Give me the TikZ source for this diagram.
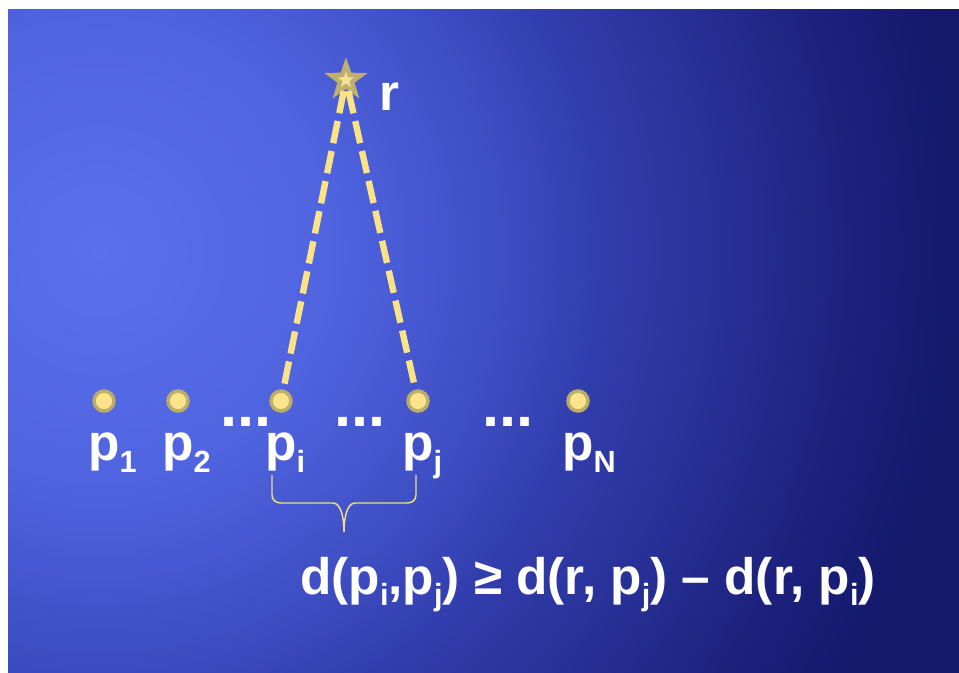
\documentclass[tikz,border=0pt]{standalone}
\usepackage{fontspec}
\setmainfont{Liberation Sans}
\usetikzlibrary{shapes.geometric,positioning}
\definecolor{bglight}{RGB}{90,112,236}
\definecolor{bgsoft}{RGB}{80,100,224}
\definecolor{bgmid}{RGB}{62,78,196}
\definecolor{bgdeep}{RGB}{50,62,174}
\definecolor{bgnight}{RGB}{28,34,125}
\definecolor{bgdark}{RGB}{20,25,108}
\definecolor{dotfill}{RGB}{250,228,140}
\definecolor{dotrim}{RGB}{188,174,102}
\definecolor{raycol}{RGB}{250,226,135}
\definecolor{starcol}{RGB}{190,176,106}
\definecolor{corecol}{RGB}{240,226,150}
\definecolor{bracecol}{RGB}{240,220,140}
\pgfdeclareradialshading{slidebg}{\pgfpoint{0bp}{0bp}}{color(0bp)=(bglight); color(5.75bp)=(bgsoft); color(10bp)=(bgmid); color(12.5bp)=(bgdeep); color(18.75bp)=(bgnight); color(21.5bp)=(bgdark); color(50bp)=(bgdark)}
\newcommand{\lowidx}[1]{\raisebox{-.22em}{\fontsize{23}{23}\selectfont #1}}
\newcommand{\ptlabel}[1]{p\rlap{\lowidx{#1}}}

\begin{document}
\begin{tikzpicture}[x=.75pt,y=-.75pt,lbl/.style={text=white,inner sep=0pt,font=\fontsize{38.5}{40}\selectfont\bfseries},gap/.style={lbl,anchor=base,font=\fontsize{46}{46}\selectfont\bfseries},dot/.style={circle,fill=dotfill,draw=dotrim,line width=2.6pt,minimum size=15pt,inner sep=0pt},ray/.style={draw=raycol,line width=4.8pt,dash pattern=on 17pt off 6pt},starmark/.style={star,star points=5,star point ratio=2.5,fill=starcol,minimum size=34pt,inner sep=0pt},starcore/.style={star,star points=5,star point ratio=2.5,fill=corecol,minimum size=13pt,inner sep=0pt},brace/.style={draw=bracecol,line width=1.1pt}]
\useasboundingbox[fill=white] (0,0) rectangle (959,672);
\begin{scope}
 \clip (8,9) rectangle (959,672);
 \shade[shading=slidebg] (-900,-750) rectangle (1100,1250);
\end{scope}

% reference point and the points on the line
\node[starmark] (rstar) at (346,80) {};
\node[starcore] (rcore) at (rstar) {};
\node[lbl,anchor=base west] (rlbl) at (379,110) {r};
\foreach \nm/\xx/\sb in {p1/104/1,p2/178/2,pi/281/i,pj/418/j,pN/578/N}{
 \node[dot] (\nm) at (\xx,401) {};
 \node[lbl,below=15pt of \nm] (\nm lbl) {\ptlabel{\sb}};
}
\node[gap] (gap1) at (246,426) {...};
\node[gap] (gap2) at (360,426) {...};
\node[gap] (gap3) at (508,426) {...};
\draw[ray] (rstar) -- (pi);
\draw[ray] (rstar) -- (pj);

% brace under p_i ... p_j
\coordinate (braceL) at (272,475);
\coordinate (braceR) at (416,475);
\coordinate (bracetip) at (344,532);
\draw[brace] (braceL) -- ++(0,20) .. controls +(0,5) and +(-5,0) .. ++(9,8) -- ++(52,0) .. controls +(8,0) and +(0,-14) .. (bracetip)
 .. controls +(0,-14) and +(-8,0) .. ++(11,-29) -- ++(52,0) .. controls +(5,0) and +(0,5) .. ++(9,-8) -- (braceR);
\node[lbl,anchor=base] (ineq) at (588,594) {d(p\lowidx{i},p\lowidx{j}) ≥ d(r, p\lowidx{j}) – d(r, p\lowidx{i})};
\end{tikzpicture}
\end{document}
